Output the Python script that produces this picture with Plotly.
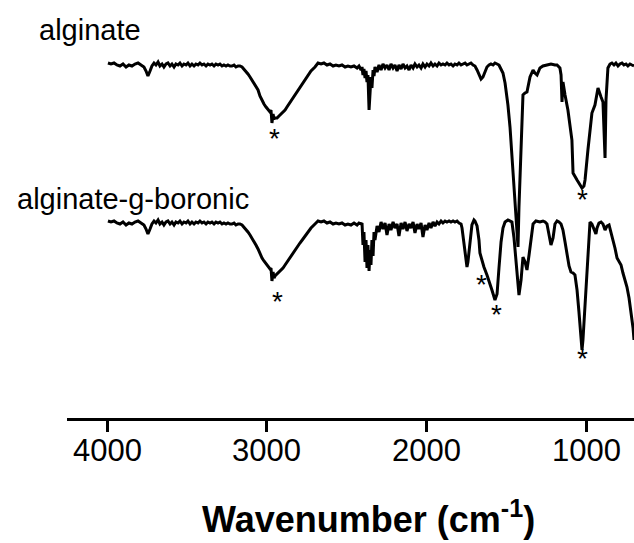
import plotly.graph_objects as go

# ---------------- data ----------------
alginate_wn = [3994, 3975, 3956, 3938, 3919, 3900, 3881, 3863, 3844, 3825, 3806, 3788, 3769, 3756, 3744, 3731, 3719, 3706, 3694, 3681,
               3669, 3656, 3644, 3631, 3619, 3606, 3594, 3581, 3569, 3556, 3544, 3531, 3519, 3506, 3494, 3481, 3469, 3456, 3444, 3431,
               3419, 3406, 3394, 3381, 3369, 3356, 3344, 3331, 3319, 3306, 3294, 3281, 3269, 3256, 3244, 3231, 3219, 3206, 3194, 3181,
               3169, 3156, 3144, 3131, 3119, 3106, 3094, 3081, 3069, 3056, 3044, 3031, 3019, 3006, 2994, 2981, 2975, 2969, 2962, 2956,
               2950, 2937, 2925, 2912, 2900, 2887, 2875, 2850, 2825, 2812, 2794, 2775, 2762, 2744, 2725, 2700, 2681, 2662, 2644, 2625,
               2606, 2587, 2569, 2550, 2531, 2512, 2494, 2475, 2456, 2437, 2425, 2412, 2406, 2400, 2394, 2387, 2381, 2375, 2369, 2362,
               2356, 2350, 2344, 2337, 2331, 2325, 2312, 2300, 2287, 2275, 2262, 2250, 2237, 2225, 2212, 2200, 2187, 2175, 2162, 2150,
               2137, 2125, 2112, 2100, 2087, 2075, 2062, 2050, 2037, 2025, 2012, 2000, 1987, 1975, 1962, 1950, 1937, 1925, 1912, 1900,
               1887, 1875, 1862, 1850, 1837, 1825, 1812, 1800, 1787, 1775, 1762, 1750, 1737, 1725, 1712, 1700, 1687, 1675, 1662, 1650,
               1637, 1625, 1612, 1600, 1587, 1575, 1562, 1550, 1544, 1525, 1512, 1494, 1481, 1462, 1444, 1431, 1425, 1412, 1406, 1400,
               1387, 1375, 1356, 1337, 1325, 1312, 1294, 1275, 1250, 1225, 1200, 1187, 1169, 1162, 1156, 1150, 1137, 1119, 1094, 1087,
               1062, 1044, 1031, 1019, 1012, 994, 969, 950, 931, 912, 900, 887, 881, 869, 856, 844, 831, 819, 806, 794,
               781, 769, 756, 744, 731, 719, 706]
alginate_T = [355, 354, 355, 353, 352, 354, 351, 353, 352, 354, 355, 353, 351, 347, 342, 347, 352, 355, 353, 356,
              352, 354, 351, 354, 355, 352, 354, 351, 354, 353, 355, 352, 354, 353, 355, 352, 354, 352, 354, 353,
              355, 353, 354, 352, 354, 353, 354, 352, 354, 353, 354, 352, 353, 352, 353, 352, 352, 353, 351, 352,
              352, 351, 349, 347, 344, 341, 338, 335, 332, 328, 322, 317, 314, 311, 308, 306, 308, 295, 304, 299,
              300, 300, 302, 304, 306, 308, 311, 317, 323, 326, 331, 335, 338, 343, 347, 351, 355, 354, 355, 353,
              354, 352, 353, 352, 353, 351, 352, 351, 352, 350, 352, 348, 351, 343, 349, 340, 347, 336, 343, 308,
              332, 341, 330, 348, 342, 351, 346, 353, 348, 354, 350, 353, 348, 354, 350, 353, 347, 353, 349, 354,
              350, 352, 348, 353, 350, 354, 351, 353, 350, 354, 351, 354, 352, 355, 352, 354, 352, 355, 353, 354,
              353, 355, 353, 354, 352, 354, 353, 355, 353, 354, 355, 353, 354, 355, 353, 352, 348, 343, 339, 341,
              347, 351, 353, 354, 353, 355, 354, 353, 351, 345, 335, 313, 291, 245, 201, 171, 211, 278, 295, 323,
              325, 326, 341, 348, 345, 343, 350, 352, 353, 354, 353, 353, 350, 343, 316, 336, 323, 308, 278, 245,
              238, 233, 230, 232, 238, 268, 305, 313, 330, 321, 316, 260, 318, 350, 354, 355, 353, 355, 352, 354,
              355, 353, 354, 352, 354, 353, 352]

boronic_wn = [3994, 3975, 3956, 3938, 3919, 3900, 3881, 3863, 3844, 3825, 3806, 3788, 3769, 3756, 3744, 3731, 3719, 3706, 3694, 3681,
              3669, 3656, 3644, 3631, 3619, 3606, 3594, 3581, 3569, 3556, 3544, 3531, 3519, 3506, 3494, 3481, 3469, 3456, 3444, 3431,
              3419, 3406, 3394, 3381, 3369, 3356, 3344, 3331, 3319, 3306, 3294, 3281, 3269, 3256, 3244, 3231, 3219, 3206, 3194, 3181,
              3169, 3156, 3144, 3131, 3119, 3106, 3094, 3081, 3069, 3056, 3044, 3031, 3019, 3006, 2994, 2981, 2975, 2969, 2962, 2956,
              2950, 2937, 2925, 2912, 2900, 2887, 2875, 2850, 2825, 2812, 2794, 2775, 2762, 2744, 2725, 2700, 2681, 2662, 2644, 2625,
              2606, 2587, 2569, 2550, 2531, 2512, 2494, 2475, 2456, 2437, 2425, 2412, 2406, 2400, 2394, 2387, 2381, 2375, 2369, 2362,
              2356, 2350, 2344, 2337, 2331, 2325, 2312, 2300, 2287, 2275, 2262, 2250, 2237, 2225, 2212, 2200, 2187, 2175, 2162, 2150,
              2137, 2125, 2112, 2100, 2087, 2075, 2062, 2050, 2037, 2025, 2012, 2000, 1987, 1975, 1962, 1950, 1937, 1925, 1912, 1900,
              1887, 1875, 1862, 1850, 1837, 1825, 1812, 1800, 1787, 1781, 1769, 1756, 1750, 1744, 1731, 1719, 1706, 1700, 1687, 1675,
              1669, 1656, 1644, 1625, 1606, 1594, 1575, 1562, 1550, 1537, 1525, 1512, 1494, 1481, 1469, 1456, 1450, 1437, 1425, 1412,
              1400, 1387, 1375, 1362, 1350, 1337, 1319, 1294, 1275, 1262, 1250, 1237, 1225, 1212, 1200, 1187, 1175, 1162, 1150, 1137,
              1125, 1112, 1100, 1087, 1075, 1062, 1050, 1037, 1031, 1025, 1012, 1000, 994, 987, 981, 969, 956, 944, 937, 925,
              912, 900, 887, 875, 862, 850, 837, 825, 812, 800, 787, 775, 762, 750, 737, 725, 712, 706]
boronic_T = [197, 196, 197, 195, 194, 196, 193, 195, 194, 196, 197, 195, 193, 189, 184, 189, 194, 197, 195, 198,
             194, 196, 193, 196, 197, 194, 196, 193, 196, 195, 197, 194, 196, 195, 197, 194, 196, 194, 196, 195,
             197, 195, 196, 194, 196, 195, 196, 194, 196, 195, 196, 194, 195, 194, 195, 194, 194, 195, 193, 194,
             194, 193, 191, 189, 186, 183, 180, 177, 173, 169, 164, 160, 157, 154, 151, 149, 150, 137, 146, 140,
             142, 144, 146, 148, 150, 153, 156, 162, 168, 171, 175, 179, 182, 186, 190, 194, 197, 196, 197, 195,
             196, 194, 195, 194, 195, 193, 194, 193, 195, 193, 195, 194, 195, 173, 186, 156, 178, 150, 173, 147,
             168, 153, 178, 162, 186, 178, 192, 186, 196, 189, 195, 183, 194, 188, 196, 190, 194, 182, 195, 189,
             196, 187, 194, 190, 196, 185, 194, 189, 195, 181, 193, 188, 195, 190, 196, 192, 196, 194, 197, 195,
             197, 196, 197, 196, 197, 196, 197, 195, 194, 190, 173, 156, 151, 156, 178, 193, 198, 197, 192, 178,
             165, 156, 151, 143, 135, 128, 118, 124, 150, 176, 190, 196, 198, 197, 196, 180, 168, 138, 123, 138,
             161, 156, 148, 163, 178, 194, 197, 196, 197, 196, 194, 183, 173, 180, 194, 197, 196, 194, 188, 176,
             163, 152, 146, 145, 143, 128, 106, 78, 68, 78, 113, 148, 168, 186, 196, 194, 188, 184, 190, 195,
             196, 194, 188, 192, 193, 186, 178, 170, 160, 156, 153, 145, 138, 131, 120, 106, 90, 78]

# marked bands (asterisks)
star_wn = [2950, 1030, 2937, 1658, 1564, 1027]
star_T = [287, 226, 124, 141, 111, 67]

series_names = ["alginate", "alginate-g-boronic"]
tick_values = [4000, 3000, 2000, 1000]
tick_labels = ["4000", "3000", "2000", "1000"]
x_title = "Wavenumber (cm<sup>-1</sup>)"

# ---------------- figure ----------------
FONT = "Liberation Sans, Arial, Helvetica, sans-serif"
fig = go.Figure()
for wn, T, name in [(alginate_wn, alginate_T, series_names[0]), (boronic_wn, boronic_T, series_names[1])]:
    fig.add_trace(go.Scatter(x=wn, y=T, mode="lines", name=name,
                             line=dict(color="black", width=3), showlegend=False,
                             hoverinfo="skip"))

annotations = []
for wx, ty in zip(star_wn, star_T):
    annotations.append(dict(x=wx, y=ty, xref="x", yref="y", text="*", showarrow=False,
                            xanchor="center", yanchor="middle", yshift=-7,
                            font=dict(family=FONT, size=28, color="black")))

# tick labels as text placed at the tick values
for tv, tl in zip(tick_values, tick_labels):
    annotations.append(dict(x=tv, y=-0.077, xref="x", yref="paper", text=tl, showarrow=False,
                            xanchor="center", yanchor="middle",
                            font=dict(family=FONT, size=31, color="black")))

annotations.append(dict(x=-0.053, y=0.928, xref="paper", yref="paper", text=series_names[0],
                        showarrow=False, xanchor="left", yanchor="middle",
                        font=dict(family=FONT, size=29, color="black")))
annotations.append(dict(x=-0.092, y=0.523, xref="paper", yref="paper", text=series_names[1],
                        showarrow=False, xanchor="left", yanchor="middle",
                        font=dict(family=FONT, size=29, color="black")))
annotations.append(dict(x=0.531, y=-0.237, xref="paper", yref="paper", text="<b>" + x_title + "</b>",
                        showarrow=False, xanchor="center", yanchor="middle",
                        font=dict(family=FONT, size=36, color="black")))

fig.update_layout(
    width=634, height=543,
    margin=dict(l=67, r=0, t=0, b=125, pad=0),
    paper_bgcolor="white", plot_bgcolor="white",
    annotations=annotations,
    xaxis=dict(range=[4250, 706], showline=True, linecolor="black", linewidth=3,
               ticks="outside", ticklen=11, tickwidth=3, tickcolor="black",
               tickvals=tick_values, showticklabels=False,
               showgrid=False, zeroline=False, fixedrange=True),
    yaxis=dict(range=[0, 418], visible=False, showgrid=False, zeroline=False, fixedrange=True),
)

fig.write_html("out.html")
